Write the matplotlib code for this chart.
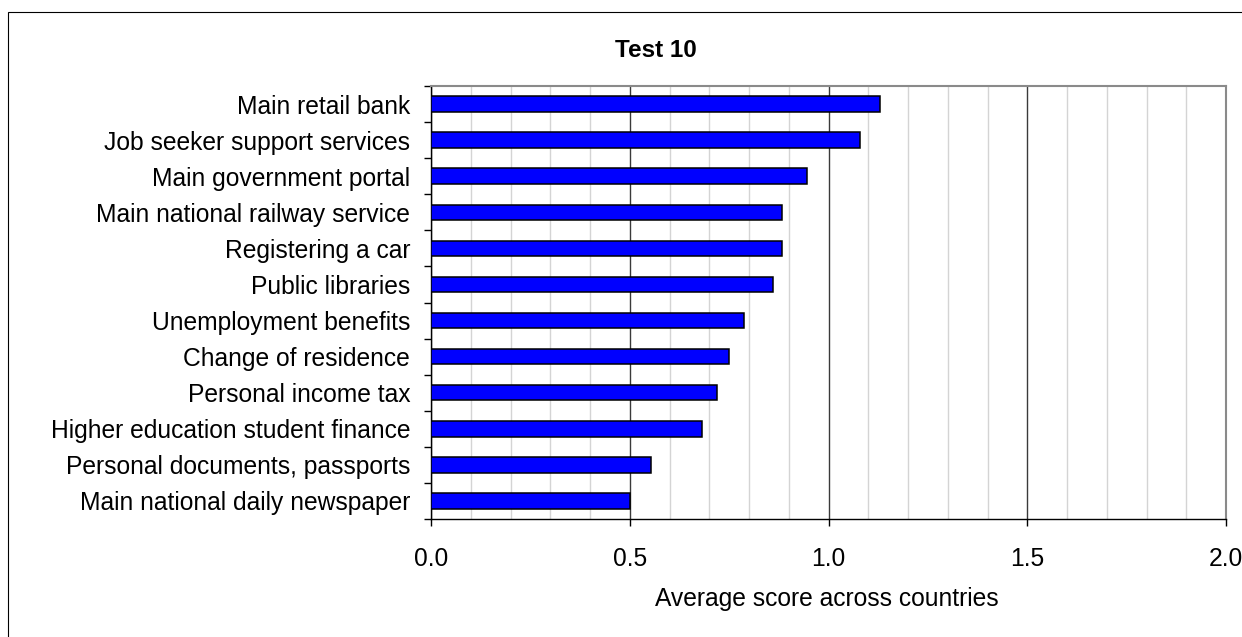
import matplotlib
matplotlib.use("Agg")
import matplotlib.pyplot as plt
from matplotlib.ticker import MultipleLocator, FixedLocator, NullFormatter
from matplotlib.patches import Rectangle

plt.rcParams['font.family'] = ['Liberation Sans', 'DejaVu Sans']

services = [
    "Main retail bank",
    "Job seeker support services",
    "Main government portal",
    "Main national railway service",
    "Registering a car",
    "Public libraries",
    "Unemployment benefits",
    "Change of residence",
    "Personal income tax",
    "Higher education student finance",
    "Personal documents, passports",
    "Main national daily newspaper",
]
scores = [1.13, 1.08, 0.945, 0.883, 0.883, 0.86, 0.788, 0.75, 0.72, 0.683, 0.554, 0.50]

title = "Test 10"
xlabel = "Average score across countries"
xticks = [0.0, 0.5, 1.0, 1.5, 2.0]

W, H, DPI = 1242, 637, 100
fig = plt.figure(figsize=(W / DPI, H / DPI), dpi=DPI)

# outer chart frame (runs off the right and bottom edges)
fig.patches.append(Rectangle((8 / W, -0.1), 1.2, 1 - 12 / H + 0.1,
                             transform=fig.transFigure, fill=False,
                             edgecolor='black', linewidth=0.8, clip_on=False))

left, right, top, bottom = 431 / W, 1226 / W, 1 - 86 / H, 1 - 519 / H
ax = fig.add_axes([left, bottom, right - left, top - bottom])

pos = list(range(len(services)))
ax.barh(pos, scores, height=0.43, color='#0000FF', edgecolor='black',
        linewidth=1.1, zorder=3)

ax.set_xlim(0, 2.0)
ax.set_ylim(len(services) - 0.5, -0.5)

# y axis: labels at bar centres, tick marks at category boundaries
ax.set_yticks(pos)
ax.set_yticklabels(services, fontsize=17.7)
ax.tick_params(axis='y', which='major', length=0, pad=15)
ax.yaxis.set_minor_locator(FixedLocator([p - 0.5 for p in pos] + [len(pos) - 0.5]))
ax.yaxis.set_minor_formatter(NullFormatter())
ax.tick_params(axis='y', which='minor', length=5, width=1, color='black', direction='out')

# x axis
ax.set_xticks(xticks)
ax.set_xticklabels([f"{v:.1f}" for v in xticks], fontsize=17.7)
ax.tick_params(axis='x', which='major', length=5, width=1, color='black', pad=15)
ax.xaxis.set_minor_locator(MultipleLocator(0.1))
ax.tick_params(axis='x', which='minor', length=0)

ax.set_axisbelow(True)
ax.grid(axis='x', which='minor', color='#d4d4d4', linewidth=1.0)
ax.grid(axis='x', which='major', color='#3a3a3a', linewidth=1.0)

for side in ('left', 'bottom'):
    ax.spines[side].set_color('black')
    ax.spines[side].set_linewidth(1.0)
for side in ('top', 'right'):
    ax.spines[side].set_color('#8a8a8a')
    ax.spines[side].set_linewidth(1.5)

fig.text(656 / W, 1 - 57 / H, title, ha='center', va='baseline',
         fontsize=17.5, fontweight='bold')
fig.text(827 / W, 1 - 606 / H, xlabel, ha='center', va='baseline', fontsize=17.7)

fig.savefig("out.png", dpi=DPI)
